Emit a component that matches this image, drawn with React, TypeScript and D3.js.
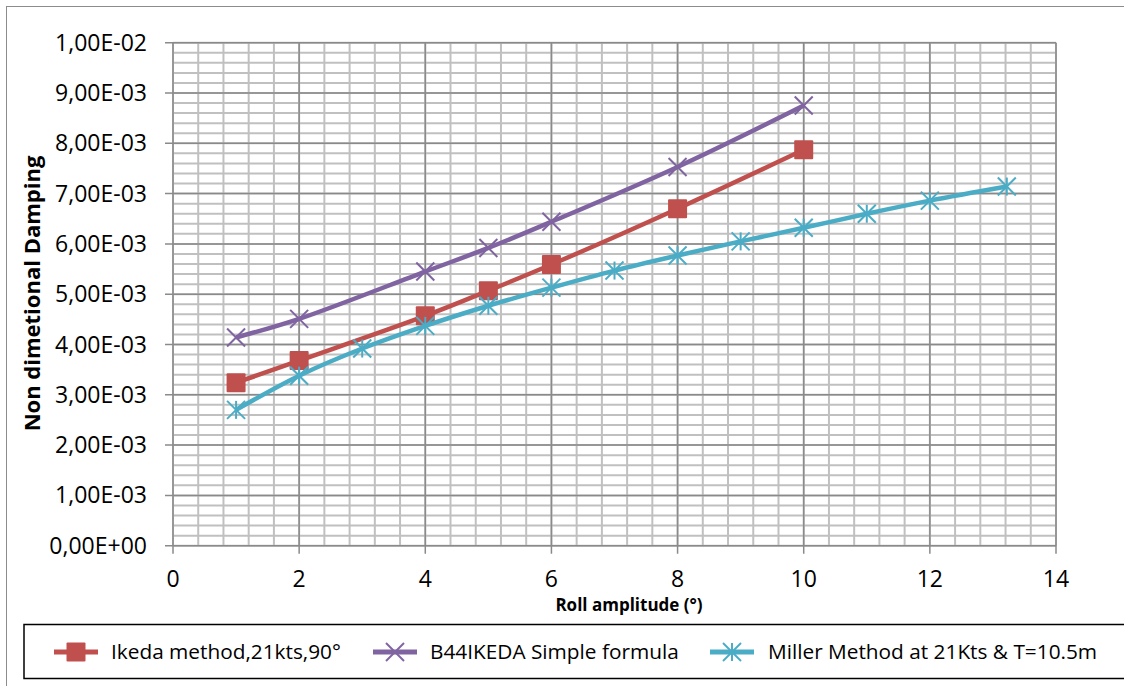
import React from "react";
import * as d3 from "d3";

// Roll amplitude (degrees) and non-dimensional damping for each method
const ikedaX = [1, 2, 4, 5, 6, 8, 10];
const ikedaY = [3.24e-3, 3.68e-3, 4.57e-3, 5.07e-3, 5.59e-3, 6.7e-3, 7.87e-3];

const b44X = [1, 2, 4, 5, 6, 8, 10];
const b44Y = [4.14e-3, 4.51e-3, 5.45e-3, 5.92e-3, 6.44e-3, 7.53e-3, 8.75e-3];

const millerX = [1, 2, 3, 4, 5, 6, 7, 8, 9, 10, 11, 12, 13.22];
const millerY = [
  2.7e-3, 3.38e-3, 3.92e-3, 4.37e-3, 4.77e-3, 5.13e-3, 5.47e-3, 5.77e-3,
  6.05e-3, 6.32e-3, 6.6e-3, 6.86e-3, 7.14e-3,
];

const seriesNames = [
  "Ikeda method,21kts,90°",
  "B44IKEDA Simple formula",
  "Miller Method at 21Kts & T=10.5m",
];

const xTicks = [0, 2, 4, 6, 8, 10, 12, 14];
const yTicks = [0, 1e-3, 2e-3, 3e-3, 4e-3, 5e-3, 6e-3, 7e-3, 8e-3, 9e-3, 1e-2];

const W = 1124;
const H = 686;
const FONT = "'Open Sans', 'Noto Sans', sans-serif";

const fmtY = (v: number) => {
  const s = v.toExponential(2); // e.g. 1.00e-2
  const [m, e] = s.split("e");
  const exp = parseInt(e, 10);
  const sign = exp < 0 ? "-" : "+";
  const ab = Math.abs(exp).toString().padStart(2, "0");
  return m.replace(".", ",") + "E" + sign + ab;
};

type Marker = "square" | "cross" | "star";

function MarkerShape({ type, x, y, color }: { type: Marker; x: number; y: number; color: string }) {
  if (type === "square") {
    return <rect x={x - 9.5} y={y - 9.5} width={19} height={19} fill={color} rx={1} />;
  }
  if (type === "cross") {
    const r = 9;
    return (
      <g stroke={color} strokeWidth={2}>
        <line x1={x - r} y1={y - r} x2={x + r} y2={y + r} />
        <line x1={x - r} y1={y + r} x2={x + r} y2={y - r} />
      </g>
    );
  }
  const r = 9;
  return (
    <g stroke={color} strokeWidth={2}>
      <line x1={x - r} y1={y - r} x2={x + r} y2={y + r} />
      <line x1={x - r} y1={y + r} x2={x + r} y2={y - r} />
      <line x1={x} y1={y - r} x2={x} y2={y + r} />
    </g>
  );
}

export default function App() {
  const left = 173;
  const right = 1056;
  const top = 42.7;
  const bottom = 545.7;

  const x = d3.scaleLinear().domain([0, 14]).range([left, right]);
  const y = d3.scaleLinear().domain([0, 1e-2]).range([bottom, top]);

  const minorX = d3.range(0, 14.0001, 0.4);
  const minorY = d3.range(0, 1.00001e-2, 0.2e-3);

  const line = d3
    .line<[number, number]>()
    .x((d) => x(d[0]))
    .y((d) => y(d[1]))
    .curve(d3.curveCatmullRom.alpha(0.5));

  const series = [
    { name: seriesNames[0], xs: ikedaX, ys: ikedaY, color: "#C0504D", marker: "square" as Marker },
    { name: seriesNames[1], xs: b44X, ys: b44Y, color: "#8064A2", marker: "cross" as Marker },
    { name: seriesNames[2], xs: millerX, ys: millerY, color: "#4BACC6", marker: "star" as Marker },
  ];

  const legendItems = [
    { lx: 54, tx: 111 },
    { lx: 373, tx: 430 },
    { lx: 710, tx: 768 },
  ];
  const legendY = 652;

  return (
    <svg
      width={W}
      height={H}
      style={{ position: "absolute", left: 0, top: 0, background: "#fff" }}
      fontFamily={FONT}
    >
      <rect x={6.5} y={6.5} width={W + 10} height={H + 10} fill="#fff" stroke="#8c8c8c" strokeWidth={1} />

      {/* minor grid */}
      <g stroke="#c0c0c0" strokeWidth={2}>
        {minorX.map((v, i) => (
          <line key={"mx" + i} x1={x(v)} x2={x(v)} y1={top} y2={bottom} />
        ))}
        {minorY.map((v, i) => (
          <line key={"my" + i} x1={left} x2={right} y1={y(v)} y2={y(v)} />
        ))}
      </g>
      {/* major grid */}
      <g stroke="#8a8a8a" strokeWidth={1.5}>
        {xTicks.map((v) => (
          <line key={"gx" + v} x1={x(v)} x2={x(v)} y1={top} y2={bottom + 8} />
        ))}
        {yTicks.map((v) => (
          <line key={"gy" + v} x1={left - 8} x2={right} y1={y(v)} y2={y(v)} />
        ))}
      </g>

      {/* axis labels */}
      <g fontSize={23} fill="#000">
        {yTicks.map((v) => (
          <text key={"ty" + v} x={147} y={y(v)} dy="0.35em" textAnchor="end">
            {fmtY(v)}
          </text>
        ))}
        {xTicks.map((v) => (
          <text key={"tx" + v} x={x(v)} y={579} dy="0.35em" textAnchor="middle">
            {v}
          </text>
        ))}
      </g>
      <text x={629} y={605} dy="0.35em" textAnchor="middle" fontSize={17} fontWeight="bold">
        Roll amplitude (°)
      </text>
      <text
        transform={`translate(32,${(155 + 432) / 2}) rotate(-90)`}
        dy="0.35em"
        textAnchor="middle"
        fontSize={22}
        fontWeight="bold"
      >
        Non dimetional Damping
      </text>

      {/* series */}
      {series.map((s) => {
        const pts = s.xs.map((v, i) => [v, s.ys[i]] as [number, number]);
        return (
          <g key={s.name}>
            <path d={line(pts) ?? ""} fill="none" stroke={s.color} strokeWidth={4.5} strokeLinejoin="round" />
            {pts.map((p, i) => (
              <MarkerShape key={i} type={s.marker} x={x(p[0])} y={y(p[1])} color={s.color} />
            ))}
          </g>
        );
      })}

      {/* legend */}
      <rect x={24} y={624.5} width={W} height={54} fill="#fff" stroke="#000" strokeWidth={1.5} />
      {series.map((s, i) => {
        const it = legendItems[i];
        return (
          <g key={"lg" + i}>
            <line x1={it.lx} x2={it.lx + 44} y1={legendY} y2={legendY} stroke={s.color} strokeWidth={5} />
            <MarkerShape type={s.marker} x={it.lx + 22} y={legendY} color={s.color} />
            <text x={it.tx} y={legendY} dy="0.35em" fontSize={20.8}>
              {s.name}
            </text>
          </g>
        );
      })}
    </svg>
  );
}
